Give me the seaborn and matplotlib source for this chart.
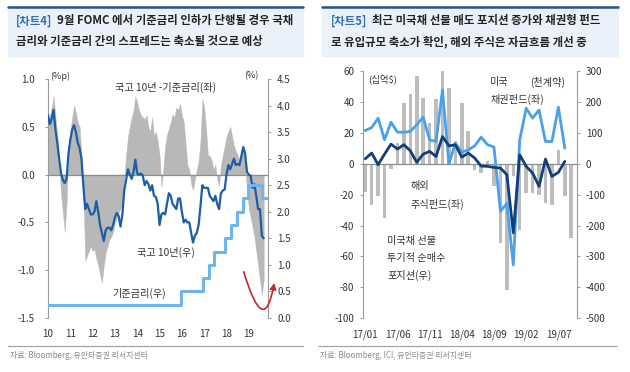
import numpy as np
import pandas as pd
import matplotlib
matplotlib.use("Agg")
import matplotlib.pyplot as plt
import seaborn as sns
from matplotlib.path import Path
from matplotlib.patches import FancyArrowPatch, Rectangle
from matplotlib.lines import Line2D

sns.set_style("white")
plt.rcParams['font.family'] = ['Noto Sans CJK KR', 'DejaVu Sans']
plt.rcParams['axes.unicode_minus'] = False

# ---------------- 차트4 : 월별 (2010/01 ~ 2019/09) ----------------
spread = [
    0.55, 0.62, 0.70, 0.82, 0.60, 0.40, 0.15, -0.20, -0.40, -0.60, -0.30, 0.30,   # 2010
    0.45, 0.60, 0.72, 0.65, 0.55, 0.50, 0.20, -0.10, -0.90, -0.85, -0.80, -0.75,  # 2011
    -0.80, -0.78, -0.88, -0.95, -1.05, -1.13, -0.95, -0.82, -0.75, -0.68, -0.65, -0.60,  # 2012
    -0.50, -0.45, -0.40, -0.35, -0.30, -0.05, 0.20, 0.40, 0.50, 0.60, 0.67, 0.82,  # 2013
    0.75, 0.67, 0.62, 0.60, 0.58, 0.62, 0.50, 0.45, 0.60, 0.40, 0.45, 0.35,       # 2014
    0.20, -0.13, 0.05, 0.30, 0.42, 0.48, 0.55, 0.63, 0.60, 0.70, 0.68, 0.74,      # 2015
    0.62, 0.55, 0.33, 0.10, 0.05, -0.10, -0.16, -0.05, 0.05, 0.15, 0.35, 0.79,    # 2016
    0.70, 0.48, 0.20, 0.20, 0.15, 0.05, 0.10, -0.05, -0.12, 0.10, 0.20, 0.30,     # 2017
    0.40, 0.45, 0.50, 0.40, 0.30, 0.25, 0.20, 0.15, 0.20, 0.30, 0.10, -0.15,      # 2018
    -0.35, -0.45, -0.55, -0.65, -0.80, -0.95, -1.10, -1.26, -1.10,                # 2019
]
bond10y = [
    3.82, 3.65, 3.75, 3.92, 3.55, 3.30, 3.00, 2.73, 2.60, 2.54, 2.62, 3.10,
    3.35, 3.55, 3.63, 3.50, 3.30, 3.20, 3.00, 2.50, 2.05, 2.15, 2.05, 1.95,
    1.95, 2.00, 2.20, 2.00, 1.75, 1.60, 1.45, 1.65, 1.70, 1.70, 1.65, 1.75,
    1.90, 1.98, 1.92, 1.72, 1.95, 2.40, 2.60, 2.80, 2.70, 2.62, 2.75, 2.98,
    2.72, 2.70, 2.72, 2.68, 2.50, 2.58, 2.52, 2.40, 2.50, 2.30, 2.28, 2.15,
    1.75, 1.95, 1.98, 1.95, 2.15, 2.35, 2.30, 2.15, 2.10, 2.05, 2.25, 2.25,
    2.00, 1.80, 1.85, 1.80, 1.80, 1.60, 1.42, 1.55, 1.60, 1.75, 2.10, 2.50,
    2.45, 2.45, 2.45, 2.30, 2.25, 2.20, 2.30, 2.15, 2.05, 2.35, 2.40, 2.42,
    2.70, 2.88, 2.80, 2.90, 3.00, 2.88, 2.90, 2.88, 3.05, 3.22, 3.10, 2.75,
    2.70, 2.68, 2.45, 2.52, 2.30, 2.05, 2.05, 1.55, 1.50,
]
# 기준금리 변경 시점(연도 소수) 과 수준
rate_dates = [2010.0, 2015.96, 2016.95, 2017.20, 2017.45, 2017.95, 2018.22,
              2018.45, 2018.73, 2018.97, 2019.58, 2019.80]
rate_levels = [0.25, 0.50, 0.75, 1.00, 1.25, 1.50, 1.75, 2.00, 2.25, 2.50, 2.25, 2.25]
year_ticks = list(range(2010, 2020))
year_labels = [str(y)[2:] for y in year_ticks]

# ---------------- 차트5 : 월별 (2017/01 ~ 2019/09) ----------------
month_labels = ['17/01', '17/06', '17/11', '18/04', '18/09', '19/02', '19/07']
ust_futures = [-90, -134, -105, -175, -16, 67, 198, 225, 284, 214, 131, 209,
               300, 244, 72, 196, 107, -19, -30, 8, -73, -256, -410, -40,
               -213, -95, -95, -100, -127, -134, 45, -105, -240]
us_bond_fund = [21.5, 23.4, 29.5, 15.5, 26.9, 20.4, 20.4, 20.9, 25.2, 30.1, 15.5, 14.4,
                47.7, 0.0, 13.3, 7.5, 9.0, 11.5, 17.2, 12.3, 10.8, -30.7, -25.8, -65.5,
                15.5, 35.9, 29.5, 34.8, 14.4, 14.4, 36.6, 10.1]
global_equity_fund = [3.2, 6.9, -0.6, 6.2, 12.7, 9.5, 12.3, 8.4, 0.9, 6.2, 8.0, 4.7,
                      17.6, 11.6, 12.3, 4.3, 6.9, 3.7, -1.5, -1.7, -2.4, -2.8, -7.1, -44.7,
                      5.8, -1.7, -6.0, -14.6, 3.0, -8.2, -5.6, 1.5]

GRAY = '#b8b8b8'
SPINE = '#9a9a9a'
TXT = '#333333'
DARK = '#1c5da6'
NAVY = '#123f7a'
LIGHT = '#6db4f0'
LIGHT2 = '#4aa0ea'

W, H = 630, 372
fig = plt.figure(figsize=(6.3, 3.72), dpi=100)


def fx(px):
    return px / W


def fy(py):
    return 1 - py / H


def style_axes(ax, side):
    for s in ['top', 'bottom', 'left', 'right']:
        ax.spines[s].set_visible(s == side)
    ax.spines[side].set_color(SPINE)
    ax.spines[side].set_linewidth(0.8)
    ax.tick_params(axis='y', length=2.5, width=0.7, color=SPINE, pad=4,
                   labelsize=7, labelcolor=TXT)
    ax.tick_params(axis='x', length=0, pad=8, labelsize=7, labelcolor=TXT)


# ---------- 차트4 ----------
df4 = pd.DataFrame({'t': 2010 + np.arange(len(spread)) / 12,
                    'spread': spread, 'bond': bond10y})
ax1 = fig.add_axes([fx(48), fy(318), fx(220), 239 / H])
ax1r = ax1.twinx()
ax1.fill_between(df4['t'], df4['spread'], 0, color=GRAY, lw=0.3, edgecolor=GRAY)
ax1.axhline(0, color='#8c8c8c', lw=0.9, zorder=3)
sns.lineplot(data=df4, x='t', y='bond', ax=ax1r, color=DARK, lw=1.6,
             estimator=None, sort=False)
ax1r.step(rate_dates, rate_levels, where='post', color=LIGHT, lw=2.2)

ax1.set_xlim(2010, 2019.86)
ax1.set_ylim(-1.5, 1.0)
ax1r.set_ylim(0, 4.5)
ax1.set_yticks(np.arange(-1.5, 1.01, 0.5))
ax1.set_yticklabels([f'{v:.1f}' for v in np.arange(-1.5, 1.01, 0.5)])
ax1r.set_yticks(np.arange(0, 4.51, 0.5))
ax1r.set_yticklabels([f'{v:.1f}' for v in np.arange(0, 4.51, 0.5)])
ax1.set_xticks(year_ticks)
ax1.set_xticklabels(year_labels)
style_axes(ax1, 'left')
style_axes(ax1r, 'right')
ax1.tick_params(axis='y', pad=7)
for a in (ax1, ax1r):
    a.set_xlabel('')
    a.set_ylabel('')

ax1.text(2010.1, 1.03, '(%p)', fontsize=6.5, color=TXT, va='center')
ax1.text(2019.45, 1.03, '(%)', fontsize=6.5, color=TXT, va='center', ha='right')
ax1.text(2013.0, 0.91, '국고 10년 -기준금리(좌)', fontsize=7.3, color=TXT, va='center')
ax1.text(2013.99, -0.81, '국고 10년(우)', fontsize=7.3, color=TXT, va='center')
ax1.text(2012.9, -1.24, '기준금리(우)', fontsize=7.3, color=TXT, va='center')

# 빨간 화살표 (하락 후 반등 예상)
arc = Path([(2018.77, 0.87), (2019.69, -0.41), (2020.14, 0.66)],
           [Path.MOVETO, Path.CURVE3, Path.CURVE3])
arrow = FancyArrowPatch(path=arc, arrowstyle='-|>', mutation_scale=9,
                        color='#c62828', lw=1.2, transform=ax1r.transData,
                        clip_on=False, zorder=6)
ax1r.add_patch(arrow)
ax1r.set_ylim(0, 4.5)

# ---------- 차트5 ----------
idx_bar = np.arange(len(ust_futures))
idx_line = np.arange(len(us_bond_fund))
ax2 = fig.add_axes([fx(363.3), fy(318.3), fx(213.4), (318.3 - 71) / H])
ax2r = ax2.twinx()
sns.barplot(x=idx_bar, y=ust_futures, native_scale=True, width=0.55, color='#bdbdbd',
            saturation=1, linewidth=0, ax=ax2r)
ax2.set_zorder(ax2r.get_zorder() + 1)
ax2.patch.set_visible(False)
ax2.axhline(0, color='#8c8c8c', lw=0.9, zorder=1)
sns.lineplot(x=idx_line, y=us_bond_fund, ax=ax2, color=LIGHT2, lw=2.0,
             estimator=None, sort=False)
sns.lineplot(x=idx_line, y=global_equity_fund, ax=ax2, color=NAVY, lw=2.0,
             estimator=None, sort=False)

ax2.set_xlim(-0.3, 32.85)
ax2.set_ylim(-100, 60)
ax2r.set_ylim(-500, 300)
ax2.set_yticks(range(-100, 61, 20))
ax2r.set_yticks(range(-500, 301, 100))
ax2.set_xticks(range(0, 31, 5))
ax2.set_xticklabels(month_labels)
style_axes(ax2, 'left')
style_axes(ax2r, 'right')
ax2r.tick_params(axis='x', length=0, labelbottom=False)
for a in (ax2, ax2r):
    a.set_xlabel('')
    a.set_ylabel('')

ax2.text(0.47, 54.8, '(십억$)', fontsize=6.8, color=TXT, va='center')
ax2.text(19.4, 52.9, '미국', fontsize=7.3, color=TXT, va='center')
ax2.text(25.6, 52.9, '(천계약)', fontsize=7.3, color=TXT, va='center')
ax2.text(19.4, 41.3, '채권펀드(좌)', fontsize=7.3, color=TXT, va='center')
ax2.text(7.05, -14.2, '해외', fontsize=7.3, color=TXT, va='center')
ax2.text(7.05, -26.5, '주식펀드(좌)', fontsize=7.3, color=TXT, va='center')
ax2.text(3.4, -50.3, '미국채 선물', fontsize=7.3, color=TXT, va='center')
ax2.text(3.4, -61.3, '투기적 순매수', fontsize=7.3, color=TXT, va='center')
ax2.text(3.4, -72.3, '포지션(우)', fontsize=7.3, color=TXT, va='center')

# ---------- 제목 박스, 출처 ----------
for x0, x1 in [(8, 303), (322, 618)]:
    fig.patches.append(Rectangle((fx(x0), fy(56)), fx(x1 - x0), 50 / H,
                                 transform=fig.transFigure, color='#eaf1fa', zorder=0))
    fig.add_artist(Line2D([fx(x0), fx(x1)], [fy(6.5), fy(6.5)], color='#24548a', lw=1.8))
for x0, x1 in [(8, 303), (318, 617)]:
    fig.add_artist(Line2D([fx(x0), fx(x1)], [fy(346), fy(346)], color='#a0a0a0', lw=0.8))

tkw = dict(fontsize=8.2, fontweight='bold', va='center')
fig.text(fx(16), fy(20.7), '[차트4]', color='#2f6db5', **tkw)
fig.text(fx(57), fy(20.7), '9월 FOMC 에서 기준금리 인하가 단행될 경우 국채', color='#222222', **tkw)
fig.text(fx(16), fy(41.7), '금리와 기준금리 간의 스프레드는 축소될 것으로 예상', color='#222222', **tkw)
fig.text(fx(331), fy(20.7), '[차트5]', color='#2f6db5', **tkw)
fig.text(fx(372), fy(20.7), '최근 미국채 선물 매도 포지션 증가와 채권형 펀드', color='#222222', **tkw)
fig.text(fx(331), fy(41.7), '로 유입규모 축소가 확인, 해외 주식은 자금흐름 개선 중', color='#222222', **tkw)

fig.text(fx(10), fy(355), '자료: Bloomberg, 유안타증권 리서치센터', fontsize=5.7, color='#8a8a8a', va='center')
fig.text(fx(320), fy(355), '자료: Bloomberg, ICI, 유안타증권 리서치센터', fontsize=5.7, color='#8a8a8a', va='center')

fig.savefig('out.png', dpi=100)
